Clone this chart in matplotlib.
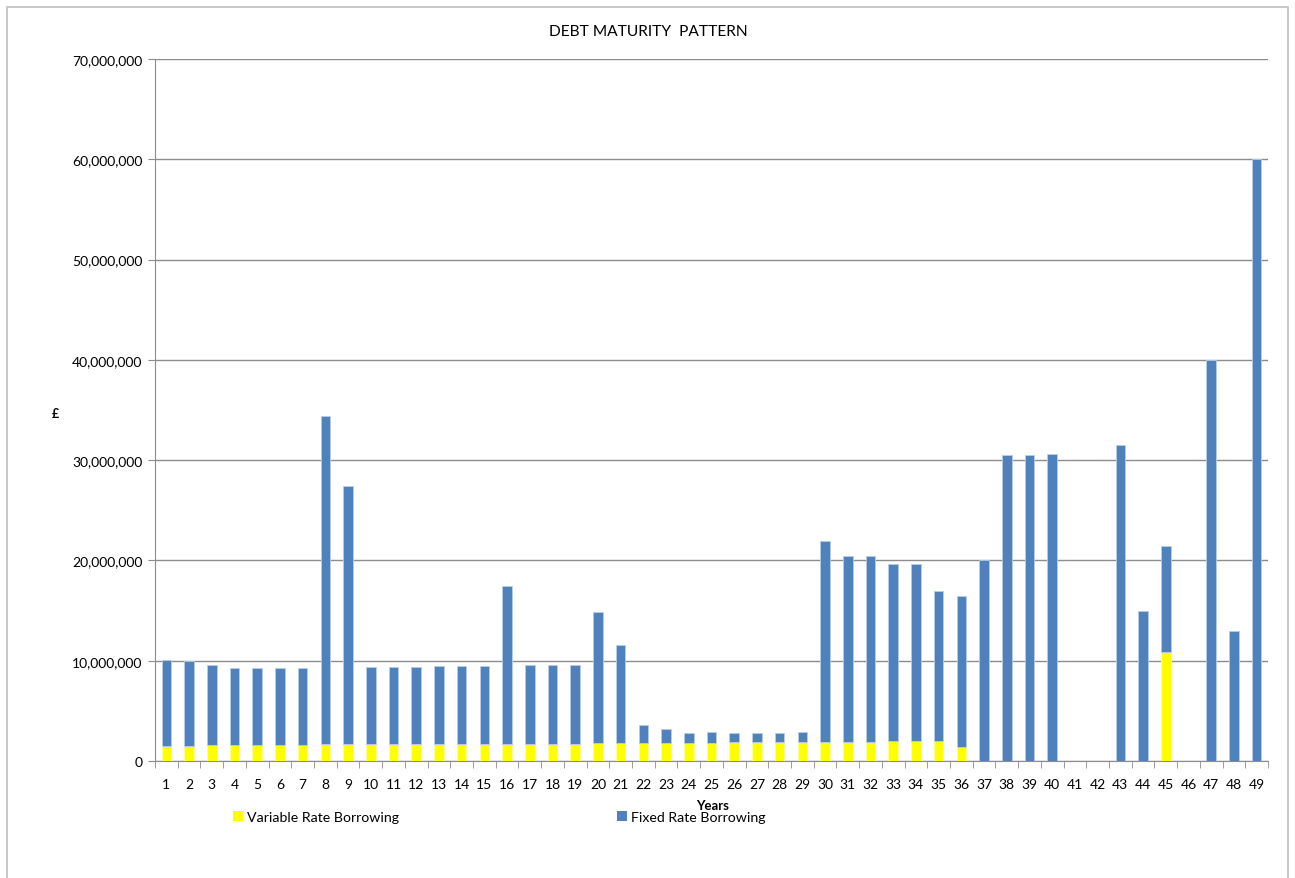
import numpy as np
import matplotlib
matplotlib.use("Agg")
import matplotlib.pyplot as plt
from matplotlib.patches import Rectangle, Patch
from matplotlib.ticker import FuncFormatter

plt.rcParams['font.family'] = ['Lato', 'DejaVu Sans']

# values in millions of pounds
years = list(range(1, 50))
variable_rate = [1.53, 1.53, 1.56, 1.60, 1.60, 1.63, 1.63, 1.66, 1.66, 1.66,
                 1.70, 1.70, 1.70, 1.70, 1.70, 1.70, 1.70, 1.73, 1.73, 1.76,
                 1.76, 1.76, 1.80, 1.83, 1.83, 1.86, 1.86, 1.86, 1.90, 1.90,
                 1.90, 1.90, 1.96, 1.96, 1.96, 1.43, 0, 0, 0, 0,
                 0, 0, 0, 0, 10.9, 0, 0, 0, 0]
fixed_rate = [8.52, 8.47, 8.04, 7.65, 7.65, 7.64, 7.67, 32.74, 25.74, 7.71,
              7.70, 7.72, 7.75, 7.77, 7.80, 15.80, 7.85, 7.84, 7.87, 13.14,
              9.80, 1.80, 1.40, 0.97, 1.03, 0.90, 0.94, 0.96, 0.96, 20.0,
              18.54, 18.57, 17.69, 17.64, 15.04, 15.05, 20.0, 30.5, 30.5, 30.6,
              0, 0, 31.5, 14.95, 10.57, 0, 40.0, 12.96, 60.0]

blue = '#4F81BD'
yellow = '#FFFF00'
grid_col = '#8C8C8C'

fig = plt.figure(figsize=(12.95, 8.79), dpi=100)
ax = fig.add_axes([155/1295, 1-762/879, (1268-155)/1295, (762-60)/879])

x = np.arange(len(years))
ax.bar(x, variable_rate, width=0.42, color=yellow, edgecolor='#FFFFA0', linewidth=0.6, zorder=3)
ax.bar(x, fixed_rate, width=0.42, bottom=variable_rate, color=blue,
       edgecolor='#B9CDE5', linewidth=0.6, zorder=3)

ax.set_xlim(-0.5, len(years) - 0.5)
ax.set_ylim(0, 70)
ax.set_yticks(np.arange(0, 71, 10))
ax.yaxis.set_major_formatter(FuncFormatter(lambda v, p: f"{v*1e6:,.0f}"))
ax.set_xticks(x)
ax.set_xticklabels([str(y) for y in years])
ax.set_xticks(np.arange(-0.5, len(years), 1), minor=True)
ax.tick_params(axis='x', which='major', length=0, pad=12, labelsize=10)
ax.tick_params(axis='x', which='minor', length=5, color=grid_col, direction='out')
ax.tick_params(axis='y', length=5, color=grid_col, labelsize=10, pad=4)

ax.grid(axis='y', color=grid_col, linewidth=1, zorder=0)
for s in ['top', 'right']:
    ax.spines[s].set_visible(False)
for s in ['left', 'bottom']:
    ax.spines[s].set_color(grid_col)

fig.text(648/1295, 1-32/879, 'DEBT MATURITY  PATTERN', ha='center', va='center', fontsize=11.2)
fig.text(55/1295, 1-414/879, '£', ha='center', va='center', fontsize=9, fontweight='bold')
fig.text(713/1295, 1-806/879, 'Years', ha='center', va='center', fontsize=9.5, fontweight='bold')

handles = [Patch(facecolor=yellow), Patch(facecolor=blue)]
fig.legend(handles, ['Variable Rate Borrowing', 'Fixed Rate Borrowing'],
           loc='center left', bbox_to_anchor=(220/1295, 1-818/879), ncol=2,
           frameon=False, fontsize=10.2, handlelength=0.7, handleheight=0.7,
           handletextpad=0.3, columnspacing=15.4)

fig.patches.append(Rectangle((7/1295, -0.05), (1288-7)/1295, 1.05-8/879,
                             transform=fig.transFigure, fill=False,
                             edgecolor='#BFBFBF', linewidth=1.2))

fig.savefig('out.png', dpi=100)
